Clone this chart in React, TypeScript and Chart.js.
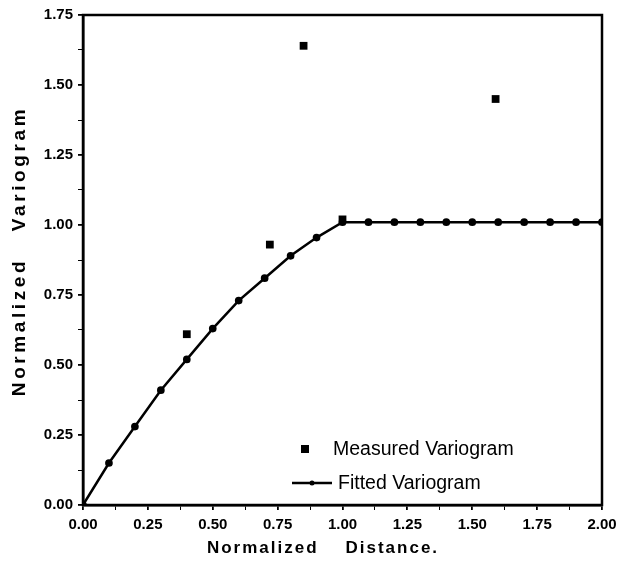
import React, { useEffect, useRef } from "react";
import { Chart, registerables } from "chart.js";

Chart.register(...registerables);

const fittedX = [0, 0.1, 0.2, 0.3, 0.4, 0.5, 0.6, 0.7, 0.8, 0.9, 1.0, 1.1, 1.2, 1.3, 1.4, 1.5, 1.6, 1.7, 1.8, 1.9, 2.0];
const fittedY = [0, 0.15, 0.28, 0.41, 0.52, 0.63, 0.73, 0.81, 0.89, 0.955, 1.01, 1.01, 1.01, 1.01, 1.01, 1.01, 1.01, 1.01, 1.01, 1.01, 1.01];
const measuredX = [0.4, 0.72, 0.85, 1.0, 1.59];
const measuredY = [0.61, 0.93, 1.64, 1.02, 1.45];

const seriesLabels = ["Measured Variogram", "Fitted Variogram"];
const xTitle = "Normalized    Distance.";
const yTitle = "Normalized   Variogram";

const FONT = "'Liberation Sans', Arial, sans-serif";

const framePlugin = {
  id: "frameAndText",
  afterDraw(chart: any) {
    const { ctx, chartArea } = chart;
    const { left, right, top, bottom } = chartArea;
    ctx.save();
    // frame
    ctx.strokeStyle = "#000";
    ctx.lineWidth = 2.5;
    ctx.strokeRect(left, top, right - left, bottom - top);

    // axis titles
    ctx.fillStyle = "#000";
    ctx.textAlign = "center";
    ctx.textBaseline = "middle";
    ctx.font = `bold 17px ${FONT}`;
    (ctx as any).letterSpacing = "2px";
    ctx.fillText(xTitle, left + 240, bottom + 43);

    ctx.save();
    ctx.translate(20, top + 236);
    ctx.rotate(-Math.PI / 2);
    ctx.font = `bold 19px ${FONT}`;
    (ctx as any).letterSpacing = "3.6px";
    ctx.fillText(yTitle, 0, 0);
    ctx.restore();

    // legend
    (ctx as any).letterSpacing = "0px";
    ctx.font = `19.5px ${FONT}`;
    ctx.textAlign = "left";
    const lx = left + 222;
    const ly1 = top + 434;
    const ly2 = top + 468;
    ctx.fillRect(lx - 4, ly1 - 4, 8, 8);
    ctx.fillText(seriesLabels[0], lx + 28, ly1 + 1);
    ctx.lineWidth = 2.5;
    ctx.beginPath();
    ctx.moveTo(lx - 13, ly2);
    ctx.lineTo(lx + 27, ly2);
    ctx.stroke();
    ctx.beginPath();
    ctx.arc(lx + 7, ly2, 2.5, 0, Math.PI * 2);
    ctx.fill();
    ctx.fillText(seriesLabels[1], lx + 33, ly2 + 1);
    ctx.restore();
  },
};

export default function App() {
  const ref = useRef<HTMLCanvasElement>(null);
  useEffect(() => {
    if (!ref.current) return;
    const tickCb = (v: any) => {
      const n = Number(v);
      return Math.abs(n / 0.25 - Math.round(n / 0.25)) < 1e-6 ? n.toFixed(2) : "";
    };
    const gridOpts = {
      drawOnChartArea: false,
      drawTicks: true,
      tickLength: 5,
      color: "#000",
      lineWidth: (c: any) => {
        const n = c.tick ? c.tick.value : 0;
        return Math.abs(n / 0.25 - Math.round(n / 0.25)) < 1e-6 ? 1.8 : 1;
      },
    };
    const chart = new Chart(ref.current, {
      type: "scatter",
      data: {
        datasets: [
          {
            label: seriesLabels[0],
            data: measuredX.map((x, i) => ({ x, y: measuredY[i] })),
            pointStyle: "rect",
            pointRadius: 5.5,
            backgroundColor: "#000",
            borderColor: "#000",
            borderWidth: 0,
            showLine: false,
          },
          {
            label: seriesLabels[1],
            data: fittedX.map((x, i) => ({ x, y: fittedY[i] })),
            pointStyle: "circle",
            pointRadius: 2.6,
            backgroundColor: "#000",
            borderColor: "#000",
            borderWidth: 2.5,
            showLine: true,
            tension: 0,
          },
        ],
      },
      options: {
        animation: false,
        responsive: false,
        maintainAspectRatio: false,
        layout: { padding: { top: 15, right: 23, left: 0, bottom: 0 } },
        plugins: {
          legend: { display: false },
          tooltip: { enabled: false },
        },
        scales: {
          x: {
            type: "linear",
            min: 0,
            max: 2,
            border: { display: true, color: "#000", width: 2.5 },
            grid: gridOpts as any,
            ticks: {
              stepSize: 0.125,
              autoSkip: false,
              maxRotation: 0,
              padding: 6,
              color: "#000",
              font: { family: FONT, size: 15, weight: "bold" },
              callback: tickCb,
            },
            afterFit: (s: any) => {
              s.height = 61;
            },
          },
          y: {
            type: "linear",
            min: 0,
            max: 1.75,
            border: { display: true, color: "#000", width: 2.5 },
            grid: gridOpts as any,
            ticks: {
              stepSize: 0.125,
              autoSkip: false,
              padding: 5,
              color: "#000",
              font: { family: FONT, size: 15, weight: "bold" },
              callback: tickCb,
            },
            afterFit: (s: any) => {
              s.width = 83;
            },
          },
        },
      },
      plugins: [framePlugin],
    });
    return () => chart.destroy();
  }, []);
  return (
    <div style={{ position: "absolute", left: 0, top: 0, width: 625, height: 566, background: "#fff" }}>
      <canvas ref={ref} width={625} height={566} style={{ display: "block" }} />
    </div>
  );
}
